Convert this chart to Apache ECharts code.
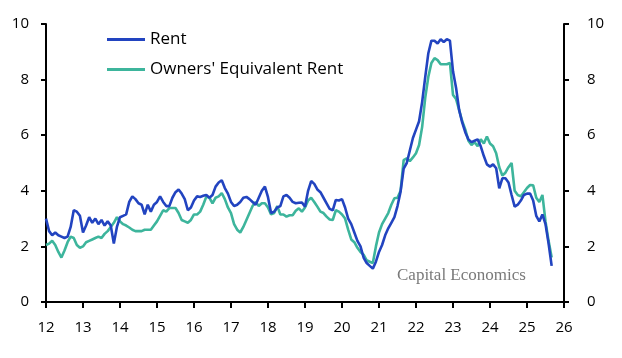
<!DOCTYPE html>
<html>
<head>
<meta charset="utf-8">
<script src="https://cdn.jsdelivr.net/npm/echarts@6/dist/echarts.min.js"></script>
<style>
html,body{margin:0;padding:0;background:#fff;}
#chart{width:622px;height:358px;}
</style>
</head>
<body>
<div id="chart"></div>
<script>
// Monthly data, January 2012 onwards
const startYear = 2012;
const seriesNames = ['Rent', "Owners' Equivalent Rent"];
const yTicks = [0, 2, 4, 6, 8, 10];
const xTickYears = [2012,2013,2014,2015,2016,2017,2018,2019,2020,2021,2022,2023,2024,2025,2026];

const rent = [
  3.0, 2.55, 2.4, 2.5, 2.4, 2.35, 2.3, 2.35, 2.7, 3.3, 3.25, 3.1,
  2.5, 2.75, 3.05, 2.85, 3.0, 2.8, 2.95, 2.75, 2.9, 2.75, 2.1, 2.7,
  3.05, 3.1, 3.15, 3.6, 3.8, 3.7, 3.55, 3.5, 3.15, 3.5, 3.25, 3.5,
  3.6, 3.8, 3.6, 3.45, 3.45, 3.75, 3.95, 4.05, 3.9, 3.7, 3.3, 3.4,
  3.65, 3.8, 3.78, 3.82, 3.85, 3.75, 3.85, 4.15, 4.3, 4.38, 4.1, 3.9,
  3.6, 3.45, 3.5, 3.6, 3.75, 3.78, 3.7, 3.6, 3.5, 3.75, 4.0, 4.15,
  3.77, 3.2, 3.25, 3.4, 3.45, 3.8, 3.85, 3.75, 3.6, 3.55, 3.57, 3.58,
  3.43, 4.0, 4.35, 4.25, 4.05, 3.95, 3.75, 3.55, 3.35, 3.3, 3.67, 3.65,
  3.7, 3.4, 3.0, 2.8, 2.5, 2.2, 2.0, 1.6, 1.4, 1.3, 1.2, 1.45,
  1.8, 2.05, 2.4, 2.65, 2.85, 3.05, 3.45, 3.97, 4.8, 5.0, 5.45, 5.9,
  6.2, 6.5, 7.2, 8.1, 8.95, 9.4, 9.4, 9.3, 9.45, 9.35, 9.45, 9.4,
  8.3, 7.7, 6.9, 6.45, 6.1, 5.85, 5.75, 5.8, 5.85, 5.6, 5.25, 4.95,
  4.87, 4.95, 4.81, 4.09, 4.45, 4.45, 4.3, 3.85, 3.43, 3.5, 3.65, 3.85,
  3.9, 3.9, 3.65, 3.1, 2.9, 3.15, 2.8, 2.1, 1.3
];

const oer = [
  2.05, 2.1, 2.2, 2.05, 1.8, 1.6, 1.85, 2.15, 2.35, 2.3, 2.05, 1.95,
  2.0, 2.15, 2.2, 2.25, 2.3, 2.35, 2.3, 2.45, 2.55, 2.7, 2.85, 3.05,
  2.9, 2.8, 2.75, 2.68, 2.6, 2.55, 2.55, 2.55, 2.6, 2.6, 2.6, 2.75,
  2.9, 3.1, 3.3, 3.25, 3.38, 3.38, 3.38, 3.2, 2.95, 2.9, 2.85, 2.95,
  3.15, 3.15, 3.25, 3.5, 3.79, 3.75, 3.55, 3.75, 3.8, 3.92, 3.7, 3.4,
  3.2, 2.8, 2.6, 2.5, 2.7, 2.95, 3.2, 3.45, 3.6, 3.45, 3.55, 3.55,
  3.4, 3.15, 3.2, 3.45, 3.15, 3.15, 3.07, 3.12, 3.12, 3.28, 3.37, 3.25,
  3.4, 3.65, 3.75, 3.6, 3.43, 3.25, 3.2, 3.07, 2.97, 2.95, 3.3, 3.25,
  3.15, 3.0, 2.6, 2.25, 2.15, 1.95, 1.8, 1.7, 1.5, 1.45, 1.4, 2.0,
  2.5, 2.8, 3.0, 3.2, 3.5, 3.73, 3.75, 4.0, 5.1, 5.17, 5.07, 5.2,
  5.35, 5.65, 6.3, 7.35, 8.1, 8.6, 8.77, 8.7, 8.55, 8.55, 8.55, 8.6,
  7.45, 7.3, 6.9, 6.5, 6.2, 5.8, 5.65, 5.75, 5.6, 5.85, 5.7, 5.95,
  5.7, 5.6, 5.35, 4.85, 4.55, 4.65, 4.85, 5.0, 4.0, 3.85, 3.8, 3.95,
  4.1, 4.21, 4.2, 3.75, 3.6, 3.85, 2.9, 2.2, 1.6
];

function toPairs(arr) {
  return arr.map((v, i) => [startYear + i / 12, v]);
}

const chart = echarts.init(document.getElementById('chart'), null, {renderer: 'canvas'});
const fontFam = '"Open Sans", "Noto Sans", sans-serif';

function yAxisDef(pos, margin) {
  return {
    type: 'value', position: pos, min: yTicks[0], max: yTicks[yTicks.length - 1], interval: 2,
    axisLine: {show: true, onZero: false, lineStyle: {color: '#000', width: 2}},
    axisTick: {show: true, inside: false, length: 5, lineStyle: {color: '#000', width: 2}},
    axisLabel: {color: '#000', fontSize: 15, fontFamily: fontFam, margin: margin},
    splitLine: {show: false}
  };
}

const legendText = {color: '#000', fontSize: 17, fontFamily: fontFam};

chart.setOption({
  animation: false,
  backgroundColor: '#fff',
  grid: {left: 46, right: 58, top: 24, bottom: 56, containLabel: false},
  legend: [
    {data: [seriesNames[0]], left: 107, top: 31, padding: 0, icon: 'rect', itemWidth: 38, itemHeight: 3,
     itemGap: 5, textStyle: legendText},
    {data: [seriesNames[1]], left: 107, top: 61, padding: 0, icon: 'rect', itemWidth: 38, itemHeight: 3,
     itemGap: 5, textStyle: legendText}
  ],
  xAxis: {
    type: 'value', min: xTickYears[0], max: xTickYears[xTickYears.length - 1], interval: 1,
    axisLine: {show: true, onZero: false, lineStyle: {color: '#000', width: 2}},
    axisTick: {show: true, inside: false, length: 6, lineStyle: {color: '#000', width: 2}},
    axisLabel: {color: '#000', fontSize: 15, fontFamily: fontFam, margin: 18,
      formatter: v => String(Math.round(v) % 100)},
    splitLine: {show: false}
  },
  yAxis: [yAxisDef('left', 17), yAxisDef('right', 23)],
  graphic: [{
    type: 'text', left: 397, top: 267,
    style: {text: 'Capital Economics', fill: '#7a7a7a', font: '17px "Liberation Serif", "DejaVu Serif", serif'}
  }],
  series: [
    {name: seriesNames[0], type: 'line', data: toPairs(rent), yAxisIndex: 0, showSymbol: false, symbol: 'none',
     lineStyle: {color: '#2244c0', width: 2.6}, itemStyle: {color: '#2244c0'}, z: 3},
    {name: seriesNames[1], type: 'line', data: toPairs(oer), yAxisIndex: 0, showSymbol: false, symbol: 'none',
     lineStyle: {color: '#3db59c', width: 2.6}, itemStyle: {color: '#3db59c'}, z: 2}
  ]
});
</script>
</body>
</html>
